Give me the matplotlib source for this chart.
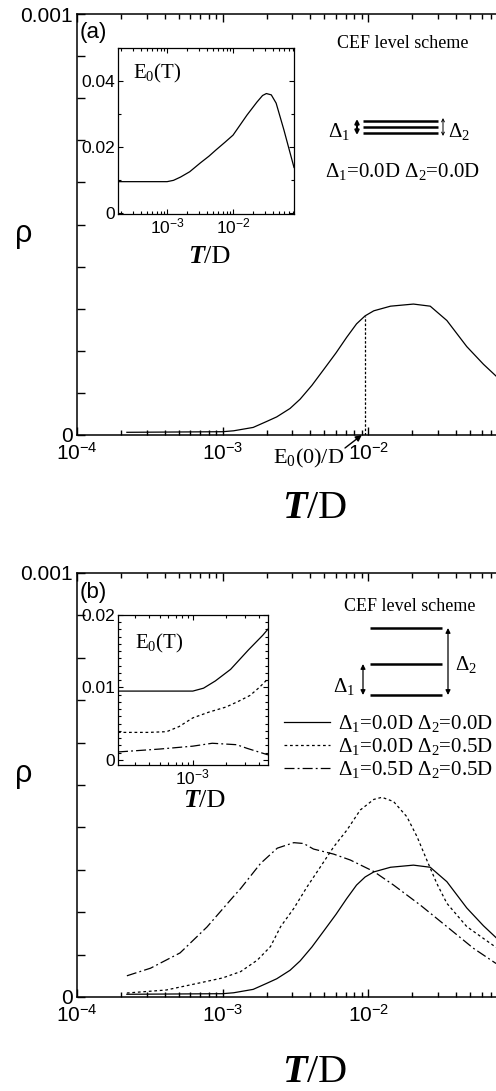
import numpy as np
import matplotlib
matplotlib.use("Agg")
import matplotlib.pyplot as plt
from matplotlib.lines import Line2D
from matplotlib.patches import FancyArrowPatch
from matplotlib.text import Annotation
from matplotlib.ticker import NullFormatter

plt.rcParams['font.family'] = 'Liberation Sans'
plt.rcParams['mathtext.default'] = 'regular'

# rho(T) curves, T in units of D, rho in units of 1e-3
T_sol = [2.2e-4, 1.0e-3, 1.19e-3, 1.62e-3, 2.0e-3, 2.35e-3, 2.9e-3, 3.4e-3, 4.1e-3,
         5.0e-3, 6.0e-3, 7.1e-3, 8.3e-3, 9.5e-3, 0.0109, 0.0142, 0.0204, 0.0266,
         0.0346, 0.0474, 0.0617, 0.0753]
rho_sol = [0.0064, 0.0078, 0.010, 0.018, 0.032, 0.043, 0.063, 0.085, 0.118,
           0.158, 0.195, 0.232, 0.264, 0.283, 0.295, 0.306, 0.311, 0.306,
           0.272, 0.210, 0.168, 0.140]

T_dot = [2.2e-4, 4.1e-4, 6.9e-4, 1.0e-3, 1.33e-3, 1.73e-3, 2.13e-3, 2.5e-3, 3.08e-3,
         3.8e-3, 4.69e-3, 5.78e-3, 7.14e-3, 8.8e-3, 0.0109, 0.0124, 0.0149, 0.0184,
         0.0216, 0.0252, 0.0295, 0.0346, 0.0474, 0.0753]
rho_dot = [0.0094, 0.0165, 0.033, 0.045, 0.060, 0.087, 0.119, 0.166, 0.209,
           0.260, 0.307, 0.354, 0.394, 0.441, 0.466, 0.471, 0.461, 0.425,
           0.378, 0.323, 0.268, 0.221, 0.166, 0.117]

T_dd = [2.2e-4, 3.2e-4, 5.1e-4, 7.8e-4, 1.18e-3, 1.33e-3, 1.82e-3, 2.37e-3, 3.08e-3,
        3.6e-3, 4.2e-3, 5.78e-3, 7.53e-3, 0.0109, 0.0149, 0.0227, 0.0346, 0.0526, 0.0753]
rho_dd = [0.050, 0.068, 0.104, 0.165, 0.236, 0.256, 0.315, 0.351, 0.364,
          0.362, 0.349, 0.337, 0.323, 0.296, 0.264, 0.217, 0.166, 0.115, 0.079]

# E0(T)
T_e0 = [1.8e-4, 5e-4, 1.0e-3, 1.25e-3, 1.6e-3, 2.2e-3, 3.2e-3, 4.3e-3, 5.5e-3,
        7.5e-3, 1.0e-2, 1.63e-2, 2.3e-2, 2.8e-2, 3.2e-2, 3.8e-2, 4.5e-2, 5.9e-2, 8.4e-2]
e0_sol = [0.0095, 0.0095, 0.0095, 0.0099, 0.0109, 0.0125, 0.0152, 0.0172, 0.0191,
          0.0214, 0.0236, 0.0297, 0.0336, 0.0356, 0.0362, 0.0358, 0.0333, 0.0252, 0.0138]
T_e0_dot = [2.1e-4, 4e-4, 5.8e-4, 7.5e-4, 1.0e-3, 1.4e-3, 2.0e-3, 2.6e-3, 3.3e-3, 4.0e-3, 4.8e-3]
e0_dot = [0.0038, 0.0038, 0.0039, 0.0046, 0.0058, 0.0066, 0.0073, 0.0081, 0.0089, 0.0100, 0.0112]
T_e0_dd = [2.1e-4, 5e-4, 1.0e-3, 1.5e-3, 2.5e-3, 3.1e-3, 4.8e-3]
e0_dd = [0.0011, 0.0015, 0.0019, 0.0023, 0.0021, 0.0016, 0.0007]

labels = ['Δ$_1$=0.0D Δ$_2$=0.0D',
          'Δ$_1$=0.0D Δ$_2$=0.5D',
          'Δ$_1$=0.5D Δ$_2$=0.5D']

W, H = 496, 1091
fig = plt.figure(figsize=(W/100, H/100), dpi=100)
SERIF = 'Liberation Serif'

def box(l, t, r, b):
    return [l/W, 1-b/H, (r-l)/W, (b-t)/H]

def fx(px):
    return px/W

def fy(py):
    return 1-py/H

DOT = (0, (2.2, 2.2))
DASHDOT = (0, (8, 2.5, 1.5, 2.5))

ax1 = fig.add_axes(box(77, 14, 514, 435))
ax2 = fig.add_axes(box(77, 573, 514, 997))
in1 = fig.add_axes(box(118, 48, 294, 214))
in2 = fig.add_axes(box(118, 615, 268, 765))

def style_main(ax):
    ax.set_xscale('log')
    ax.set_xlim(1e-4, 1e-1)
    ax.set_ylim(0, 1e-3)
    ax.set_xticks([1e-4, 1e-3, 1e-2, 1e-1],
                  [r'$\mathdefault{10^{-4}}$', r'$\mathdefault{10^{-3}}$', r'$\mathdefault{10^{-2}}$', ''])
    ax.xaxis.set_minor_formatter(NullFormatter())
    ax.set_yticks([0, 1e-3], ['0', '0.001'])
    ax.set_yticks(np.arange(1, 10)*1e-4, minor=True)
    ax.tick_params(which='both', direction='in', top=True, right=True, labelsize=15, width=1)
    ax.tick_params(which='major', length=6)
    ax.tick_params(axis='x', which='major', pad=5)
    ax.tick_params(axis='y', which='major', pad=3)
    ax.tick_params(axis='x', which='minor', length=3.6)
    ax.tick_params(axis='y', which='minor', length=6)
    for s in ax.spines.values():
        s.set_linewidth(1.1)

def style_inset(ax, xlim, ylim, yt, ylab, ymin):
    ax.set_xscale('log')
    ax.set_xlim(*xlim)
    ax.set_ylim(*ylim)
    ax.xaxis.set_minor_formatter(NullFormatter())
    ax.set_yticks(yt, ylab)
    ax.set_yticks(ymin, minor=True)
    ax.tick_params(which='both', direction='in', top=True, right=True, labelsize=12.5, width=0.8)
    ax.tick_params(which='major', length=3.6, pad=2)
    ax.tick_params(which='minor', length=2.4)
    for s in ax.spines.values():
        s.set_linewidth(0.9)

def serif(x, y, s, size, **kw):
    return fig.text(fx(x), fy(y), s, fontsize=size, family=SERIF, va='baseline', **kw)

def fline(x0, y0, x1, y1, lw):
    fig.add_artist(Line2D([fx(x0), fx(x1)], [fy(y0), fy(y1)], transform=fig.transFigure,
                          color='k', lw=lw, solid_capstyle='butt'))

def farrow(x, y0, y1, style, lw, ms):
    fig.add_artist(FancyArrowPatch((fx(x), fy(y0)), (fx(x), fy(y1)), transform=fig.transFigure,
                                   arrowstyle=style, lw=lw, color='k', mutation_scale=ms,
                                   shrinkA=0, shrinkB=0))

# ---------------- panel (a)
style_main(ax1)
ax1.plot(T_sol, np.array(rho_sol)*1e-3, 'k-', lw=0.9)
E0_zero = e0_sol[0]
rho_at = np.interp(np.log10(E0_zero), np.log10(T_sol), rho_sol)*1e-3
ax1.vlines(E0_zero, 0, rho_at, colors='k', linestyles=(0, (2, 1.5)), lw=0.9)
ax1.annotate('', xy=(E0_zero*0.95, 0), xycoords='data',
             xytext=(fx(345), fy(448)), textcoords='figure fraction',
             arrowprops=dict(arrowstyle='-|>', lw=1, color='k', mutation_scale=9,
                             shrinkA=0, shrinkB=0), annotation_clip=False)
serif(273, 463, 'E$_0$(0)/D', 16)

style_inset(in1, (1.8e-4, 8.4e-2), (-0.0003, 0.05), [0, 0.02, 0.04], ['0', '0.02', '0.04'],
            [0.01, 0.03, 0.05])
in1.set_xticks([1e-3, 1e-2], [r'$\mathdefault{10^{-3}}$', r'$\mathdefault{10^{-2}}$'])
in1.plot(T_e0, e0_sol, 'k-', lw=0.9)
serif(133, 78, 'E$_0$(T)', 15)

fig.text(fx(80), fy(38), '(a)', fontsize=16, va='baseline')
fig.text(fx(15), fy(242), 'ρ', fontsize=22, va='baseline')
serif(403, 48, 'CEF level scheme', 13, ha='center')
for yy in (121, 127, 133):
    fline(363, yy, 438, yy, 1.8)
farrow(357, 119, 135, '<|-|>', 1.5, 6)
farrow(443, 118, 136, '<->', 0.7, 5)
serif(328, 137, 'Δ$_1$', 15)
serif(448, 137, 'Δ$_2$', 15)
serif(403, 177, labels[0], 15, ha='center')

# ---------------- panel (b)
style_main(ax2)
h1, = ax2.plot(T_sol, np.array(rho_sol)*1e-3, 'k-', lw=0.9)
h2, = ax2.plot(T_dot, np.array(rho_dot)*1e-3, color='k', ls=DOT, lw=0.9)
h3, = ax2.plot(T_dd, np.array(rho_dd)*1e-3, color='k', ls=DASHDOT, lw=0.9)
ax2.legend([h1, h2, h3], labels, loc='upper left', bbox_to_anchor=(fx(284), fy(713)),
           bbox_transform=fig.transFigure, frameon=False,
           prop={'family': SERIF, 'size': 15},
           handlelength=2.2, handletextpad=0.4, labelspacing=0.1,
           borderpad=0, borderaxespad=0)

style_inset(in2, (2.1e-4, 4.8e-3), (-0.0007, 0.02), [0, 0.01, 0.02], ['0', '0.01', '0.02'],
            np.arange(0.001, 0.02, 0.001))
in2.set_xticks([1e-3], [r'$\mathdefault{10^{-3}}$'])
in2.plot(T_e0, e0_sol, 'k-', lw=0.9)
in2.plot(T_e0_dot, e0_dot, color='k', ls=DOT, lw=0.9)
in2.plot(T_e0_dd, e0_dd, color='k', ls=DASHDOT, lw=0.9)
serif(135, 648, 'E$_0$(T)', 15)

fig.text(fx(80), fy(598), '(b)', fontsize=16, va='baseline')
fig.text(fx(15), fy(782), 'ρ', fontsize=22, va='baseline')
serif(410, 611, 'CEF level scheme', 13, ha='center')
for yy in (628, 664, 695):
    fline(370, yy, 442, yy, 1.8)
farrow(448, 628, 695, '<|-|>', 0.9, 7)
farrow(363, 664, 695, '<|-|>', 0.9, 7)
serif(333, 692, 'Δ$_1$', 15)
serif(455, 670, 'Δ$_2$', 15)

# axis labels: bold italic T followed by /D
for x, y, size in ((282, 518, 29), (282, 1082, 29), (188, 263, 19), (183, 807, 19)):
    t = fig.text(fx(x), fy(y), 'T', family=SERIF, weight='bold',
                 style='italic', fontsize=size, va='baseline')
    fig.add_artist(Annotation('/D', xy=(1, 0), xycoords=t, family=SERIF,
                              fontsize=size, va='bottom', ha='left', annotation_clip=False))

fig.savefig('out.png', dpi=100)
